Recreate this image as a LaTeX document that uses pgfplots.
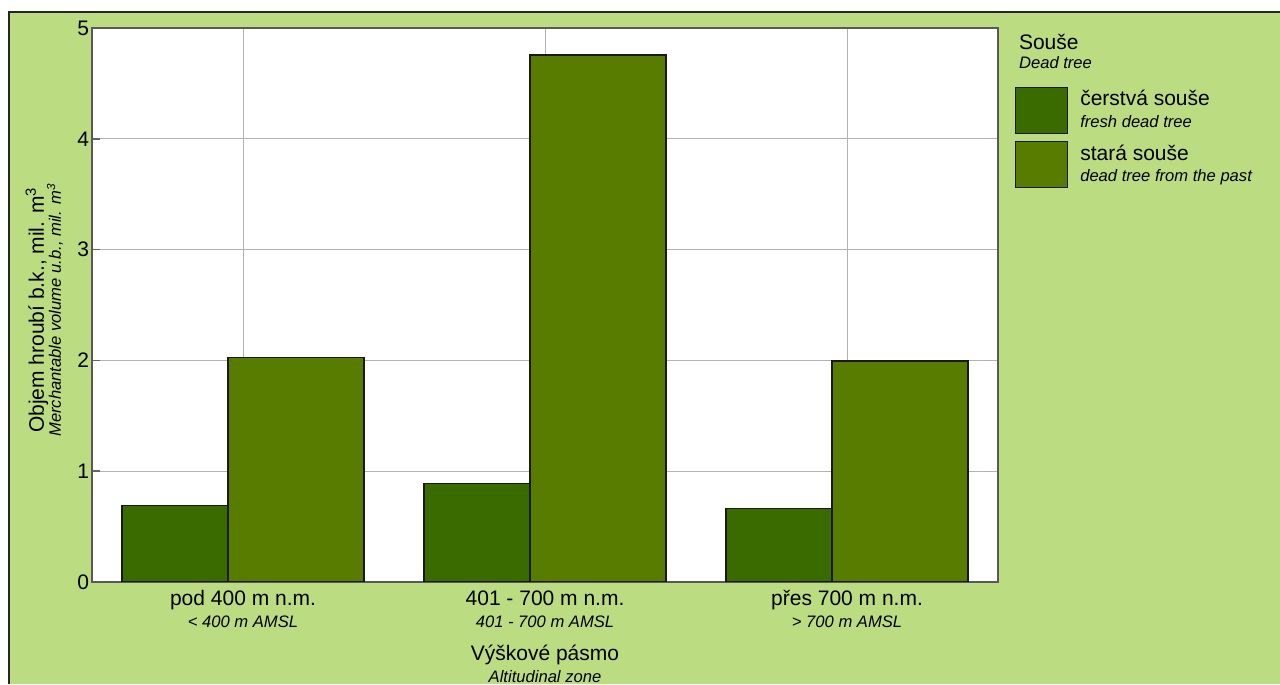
\documentclass[border=0pt]{standalone}
\usepackage{fontspec}
\setmainfont{Liberation Sans}
\usepackage{pgfplots}
\pgfplotsset{compat=1.18}
\definecolor{bggreen}{RGB}{187,220,128}
\definecolor{darkbar}{RGB}{58,107,0}
\definecolor{olivebar}{RGB}{87,124,0}
\newcommand{\bigf}{\fontsize{10.5bp}{12bp}\selectfont}
\newcommand{\sm}{\fontsize{8.3bp}{9.8bp}\selectfont\itshape}
\begin{document}
\begin{tikzpicture}[x=0.5bp,y=0.5bp]
\useasboundingbox (0,0) rectangle (1280,684);
\fill[white] (0,0) rectangle (1280,684);
\fill[bggreen] (9,0) rectangle (1280,672);
\draw[black!85, line width=1bp] (9,0) -- (9,672) -- (1280,672);
\begin{axis}[
  at={(46bp,51bp)}, anchor=south west,
  scale only axis, width=453bp, height=277bp,
  xmin=-0.5, xmax=2.5, ymin=0, ymax=5,
  axis background/.style={fill=white},
  axis line style={black!65, line width=0.6bp},
  xtick={0,1,2},
  xticklabels={
    {\vphantom{Ýd}pod 400 m n.m.\\[-1.3bp]{\sm < 400 m AMSL}},
    {\vphantom{Ýd}401 - 700 m n.m.\\[-1.3bp]{\sm 401 - 700 m AMSL}},
    {\vphantom{Ýd}přes 700 m n.m.\\[-1.3bp]{\sm > 700 m AMSL}}},
  xticklabel style={align=center, font=\bigf, yshift=0.8bp},
  ytick={0,1,2,3,4,5},
  ytick pos=left,
  yticklabel style={font=\bigf, xshift=2bp},
  /pgf/number format/assume math mode=true,
  grid=major,
  major grid style={black!30, line width=0.5bp},
  xtick style={draw=none},
  ytick style={black!60, line width=0.8bp},
  tick align=inside,
  major tick length=4bp,
  legend style={at={(axis description cs:1.0188,0.8935)}, anchor=north west,
    draw=none, fill=none, inner sep=0pt, outer sep=0pt,
    row sep=3.5bp, column sep=6bp,
    nodes={inner sep=0pt, outer sep=0pt, align=left, anchor=west}},
  legend cell align=left,
]
\addplot[ybar, bar width=0.45, bar shift=-0.1755, fill=darkbar, draw=black!90, line width=0.6bp,
  legend image code/.code={\draw[fill=darkbar, draw=black!90, line width=0.6bp] (0bp,-11.5bp) rectangle (26bp,11.5bp);}]
  coordinates {(0,0.692) (1,0.890) (2,0.660)};
\addlegendentry{\bigf čerstvá souše\\[-1bp]{\sm fresh dead tree}}
\addplot[ybar, bar width=0.45, bar shift=0.1755, fill=olivebar, draw=black!90, line width=0.6bp,
  legend image code/.code={\draw[fill=olivebar, draw=black!90, line width=0.6bp] (0bp,-11.5bp) rectangle (26bp,11.5bp);}]
  coordinates {(0,2.023) (1,4.756) (2,1.994)};
\addlegendentry{\bigf stará souše\\[-1bp]{\sm dead tree from the past}}
\end{axis}
\node[anchor=west, font=\bigf] at (1012,642) {Souše};
\node[anchor=west, font=\sm] at (1012,621) {Dead tree};
\node[rotate=90, font=\bigf] at (37,374) {Objem hroubí b.k., mil. m\textsuperscript{3}};
\node[rotate=90, font=\sm] at (55,374) {Merchantable volume u.b., mil. m\textsuperscript{3}};
\node[font=\bigf] at (545,29) {Výškové pásmo};
\node[font=\sm] at (545,7) {Altitudinal zone};
\end{tikzpicture}
\end{document}
